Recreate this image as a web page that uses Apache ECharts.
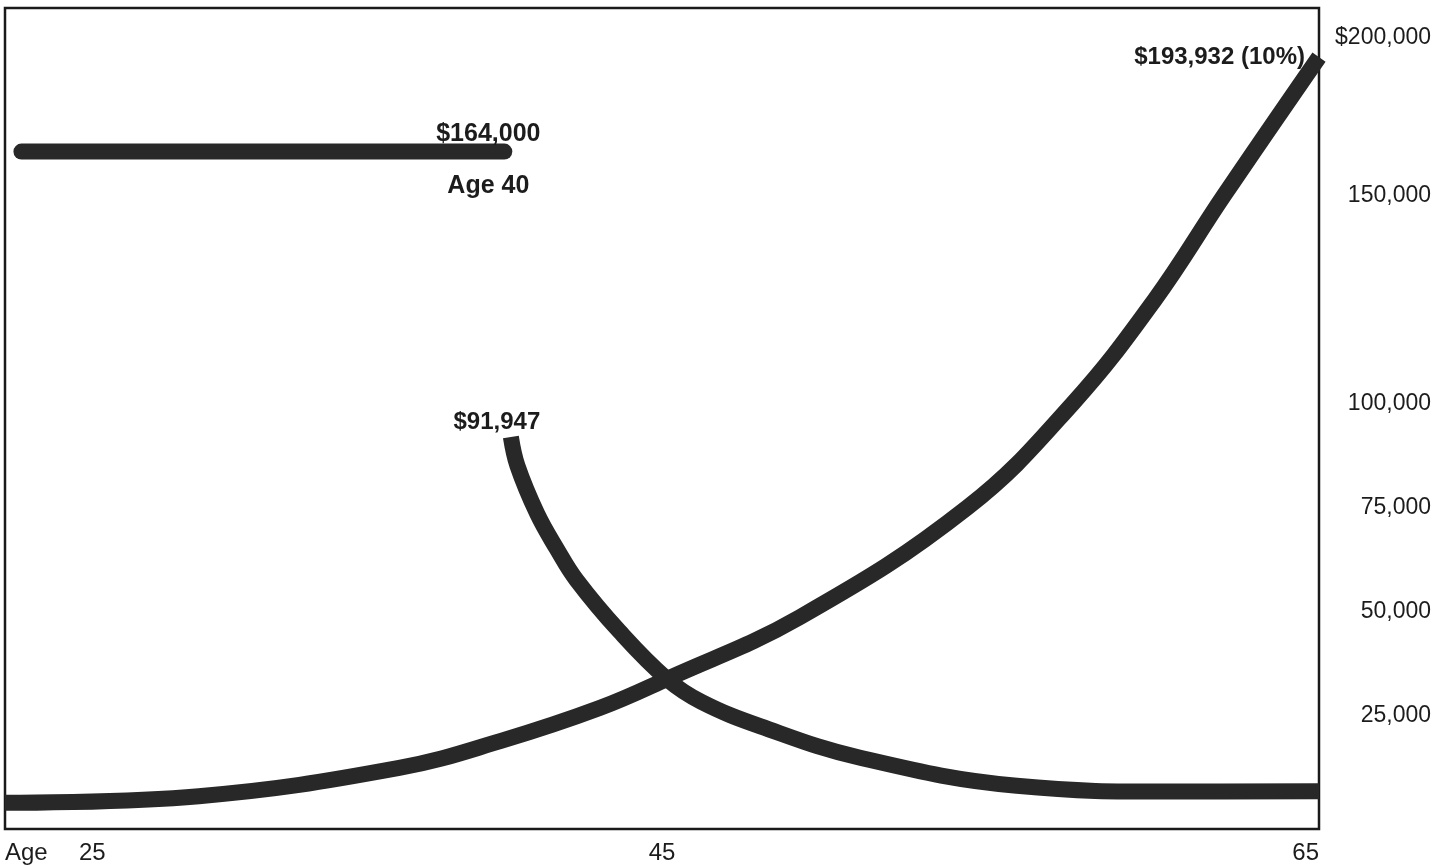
<!DOCTYPE html>
<html lang="en">
<head>
<meta charset="utf-8">
<title>Age 25 to 65</title>
<script src="https://cdn.jsdelivr.net/npm/echarts@6/dist/echarts.min.js"></script>
<style>html, body { margin: 0; background: #fff; }</style>
</head>
<body>
<div id="main" style="width: 1450px; height: 865px;"></div>
<script>
// tick labels
const xTicks = [25, 45, 65];
const yTicks = [25000, 50000, 75000, 100000, 150000, 200000];

// curve growing at 10% up to age 65
const growAges = [25, 30.9, 37, 40.1, 43.1, 45.15, 49.2, 54.3, 57.5, 60, 62.1, 65];
const growValues = [3900, 5500, 12300, 18800, 26700, 33700, 48600, 75000, 100000, 125000, 150000, 193932];

// curve falling from $91,947 at age 40
const fallAges = [40.4, 40.6, 41.2, 41.8, 42.4, 43.7, 45.15, 46.2, 48, 51, 55.8, 60.6, 65];
const fallValues = [91947, 85000, 73500, 65000, 57500, 45200, 33700, 28200, 22300, 14800, 8000, 6600, 6700];

// flat $164,000 line up to age 40
const flatAges = [25.5, 40.2];
const flatValues = [164000, 164000];

// the printed scale is squeezed above 150,000
const BREAK = 150000, SQUEEZE = 0.76;
function toAxis(v) { return v <= BREAK ? v : BREAK + (v - BREAK) * SQUEEZE; }
function fromAxis(t) { return t <= BREAK ? t : BREAK + (t - BREAK) / SQUEEZE; }
function pairs(xs, ys) { return xs.map((x, i) => [x, toAxis(ys[i])]); }

const FONT = "'Liberation Sans', Arial, Helvetica, sans-serif";
const INK = '#282828';
const TEXT = '#1c1c1c';

function withLabel(data, i, label) {
    data[i] = { value: data[i], label: Object.assign({ show: true, color: TEXT, fontFamily: FONT, fontWeight: 'bold', fontSize: 24 }, label) };
    return data;
}

let myChart = echarts.init(document.getElementById('main'));
let option = {
    animation: false,
    backgroundColor: '#fff',
    grid: { left: 5, right: 131, top: 8, bottom: 35, show: true, borderColor: '#1a1a1a', borderWidth: 2.5 },
    xAxis: {
        type: 'value', min: 25, max: 65,
        axisLine: { show: false }, axisTick: { show: false }, splitLine: { show: false },
        axisLabel: {
            customValues: xTicks,
            alignMinLabel: 'left', alignMaxLabel: 'right',
            margin: 12, fontSize: 24, color: TEXT, fontFamily: FONT,
            formatter: v => v === 25 ? '{a|Age}25' : String(v),
            rich: { a: { width: 74, fontSize: 24, color: TEXT, fontFamily: FONT } }
        }
    },
    yAxis: {
        type: 'value', position: 'right', min: -2400, max: 195200,
        axisLine: { show: false }, axisTick: { show: false }, splitLine: { show: false },
        axisLabel: {
            customValues: yTicks.map(toAxis),
            align: 'right', margin: 112, fontSize: 23, color: TEXT, fontFamily: FONT,
            formatter: t => {
                const v = Math.round(fromAxis(t) / 1000) * 1000;
                const s = v.toLocaleString('en-US');
                return v === 200000 ? '$' + s : s;
            }
        }
    },
    series: [
        {
            type: 'line', symbolSize: 0, showSymbol: true,
            lineStyle: { color: INK, width: 16, cap: 'round' },
            data: withLabel(pairs(flatAges, flatValues), flatAges.length - 1, {
                position: 'inside', offset: [-16, 9], lineHeight: 26, fontSize: 25,
                formatter: '$164,000\n\nAge 40'
            })
        },
        {
            type: 'line', symbolSize: 0, showSymbol: true, smooth: 0.4,
            lineStyle: { color: INK, width: 16, cap: 'butt' },
            data: withLabel(pairs(growAges, growValues), growAges.length - 1, {
                position: 'left', distance: 14, formatter: '$193,932 (10%)'
            })
        },
        {
            type: 'line', symbolSize: 0, showSymbol: true, smooth: 0.4,
            lineStyle: { color: INK, width: 16, cap: 'butt' },
            data: withLabel(pairs(fallAges, fallValues), 0, {
                position: 'top', distance: 3, offset: [-14, 0], formatter: '$91,947'
            })
        }
    ]
};
myChart.setOption(option);
</script>
</body>
</html>
